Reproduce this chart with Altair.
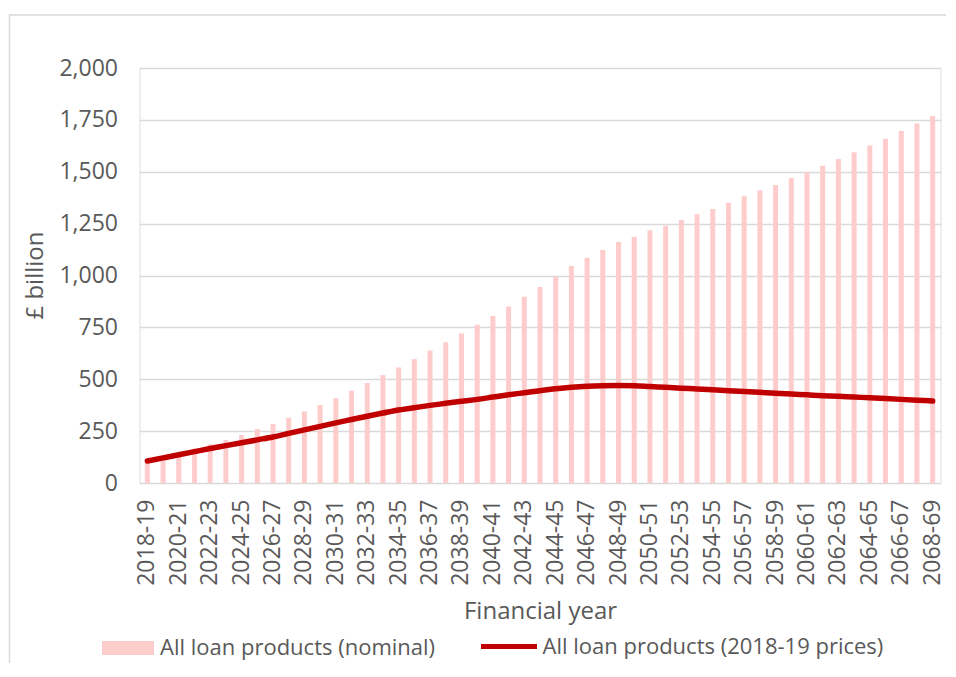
import altair as alt
import pandas as pd

years = [f"{y}-{str(y + 1)[-2:]}" for y in range(2018, 2069)]

nominal = [106, 125, 145, 165, 186, 207, 231, 260, 284, 315,
           345, 376, 409, 445, 482, 520, 557, 597, 638, 678,
           720, 763, 805, 851, 898, 945, 994, 1046, 1086, 1123,
           1161, 1187, 1218, 1240, 1267, 1295, 1320, 1351, 1382, 1411,
           1436, 1470, 1497, 1529, 1561, 1594, 1626, 1659, 1696, 1732,
           1769]

real = [106, 121, 136, 151, 166, 180, 194, 208, 222, 239,
        256, 273, 290, 306, 322, 337, 352, 363, 374, 384,
        394, 403, 414, 425, 435, 445, 454, 461, 466, 469,
        470, 469, 465, 461, 457, 453, 449, 445, 441, 437,
        433, 429, 425, 421, 418, 414, 411, 407, 403, 399,
        395]

series_names = ["All loan products (nominal)", "All loan products (2018-19 prices)"]
y_ticks = list(range(0, 2001, 250))

df = pd.DataFrame({"year": years, "nominal": nominal, "real": real})
df["s_nom"] = series_names[0]
df["s_real"] = series_names[1]

FONT = "Open Sans"
TXT = "#595959"
GRID = "#D9D9D9"
TICK_FS = 23
TITLE_FS = 24
LEG_FS = 22

x_enc = alt.X(
    "year:N",
    sort=years,
    scale=alt.Scale(paddingInner=0, paddingOuter=0),
    axis=alt.Axis(
        title="Financial year",
        values=years[::2],
        labelAngle=270,
        labelAlign="right",
        labelBaseline="middle",
        labelPadding=16,
        labelFontSize=TICK_FS,
        labelColor=TXT,
        labelFont=FONT,
        labelOverlap=False,
        titleFontSize=TITLE_FS,
        titleFont=FONT,
        titleColor=TXT,
        titleFontWeight="normal",
        titlePadding=14,
        grid=False,
        ticks=False,
        domain=False,
    ),
)

y_axis = alt.Axis(
    title="£ billion",
    values=y_ticks,
    format=",.0f",
    labelPadding=22,
    labelFontSize=TICK_FS,
    labelColor=TXT,
    labelFont=FONT,
    titleFontSize=TITLE_FS,
    titleFont=FONT,
    titleColor=TXT,
    titleFontWeight="normal",
    titleX=-104,
    titleY=207,
    titleAngle=270,
    titleAlign="center",
    titleBaseline="middle",
    grid=True,
    gridColor=GRID,
    gridWidth=1.5,
    ticks=False,
    domain=False,
)

bars = alt.Chart(df).mark_bar(size=5, opacity=1).encode(
    x=x_enc,
    y=alt.Y("nominal:Q", scale=alt.Scale(domain=[0, 2000], nice=False), axis=y_axis),
    color=alt.Color(
        "s_nom:N",
        scale=alt.Scale(domain=[series_names[0]], range=["#FFCCCC"]),
        legend=alt.Legend(
            title=None,
            orient="none",
            legendX=-37.5,
            legendY=554,
            symbolType="M-1,-0.27H1V0.27H-1Z",
            symbolSize=2704,
            symbolStrokeWidth=0,
            symbolOpacity=1,
            labelOffset=6,
            labelFontSize=LEG_FS,
            labelFont=FONT,
            labelColor=TXT,
            labelLimit=600,
            padding=0,
        ),
    ),
)

line = alt.Chart(df).mark_line(strokeWidth=5.5, strokeCap="round", interpolate="monotone").encode(
    x=alt.X("year:N", sort=years),
    y=alt.Y("real:Q", axis=y_axis),
    stroke=alt.Stroke(
        "s_real:N",
        scale=alt.Scale(domain=[series_names[1]], range=["#C00000"]),
        legend=alt.Legend(
            title=None,
            orient="none",
            legendX=339,
            legendY=548,
            symbolType="stroke",
            symbolSize=3136,
            symbolStrokeWidth=5,
            labelOffset=3,
            labelFontSize=LEG_FS,
            labelFont=FONT,
            labelColor=TXT,
            labelLimit=600,
            padding=0,
        ),
    ),
)

frame = alt.Chart(pd.DataFrame({"k": [0]})).mark_rect(
    fill=None, stroke=GRID, strokeWidth=1.5
).encode(
    x=alt.value(-130),
    x2=alt.value(1100),
    y=alt.value(-53),
    y2=alt.value(800),
)

chart = alt.layer(frame, bars, line).properties(
    width=801,
    height=415,
    autosize=alt.AutoSizeParams(type="none"),
    padding={"left": 131.5, "top": 60, "right": 5, "bottom": 180},
).configure_view(stroke=None).configure(font=FONT, background="white")

chart.save("out.html", embed_options={"renderer": "svg", "actions": False})
